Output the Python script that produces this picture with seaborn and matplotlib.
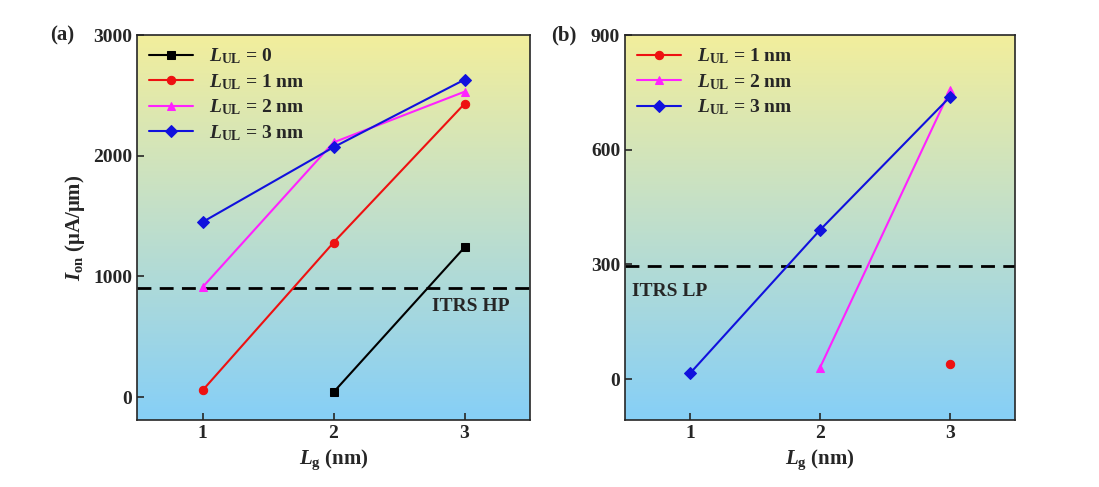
import matplotlib
matplotlib.use("Agg")
import matplotlib.pyplot as plt
import seaborn as sns
import numpy as np
import pandas as pd
from matplotlib.colors import LinearSegmentedColormap

# panel (a) data
lg_a0 = [2, 3]
ion_a0 = [40, 1240]
lg_a = [1, 2, 3]
ion_a1 = [55, 1280, 2430]
ion_a2 = [910, 2110, 2530]
ion_a3 = [1450, 2070, 2630]
itrs_hp = 900

# panel (b) data
lg_b1 = [3]
ion_b1 = [40]
lg_b2 = [2, 3]
ion_b2 = [30, 755]
lg_b3 = [1, 2, 3]
ion_b3 = [15, 390, 738]
itrs_lp = 295

sns.set_style("ticks")
plt.rcParams['font.family'] = ['Liberation Serif', 'DejaVu Serif']
plt.rcParams['font.weight'] = 'bold'
plt.rcParams['axes.labelweight'] = 'bold'
plt.rcParams['mathtext.fontset'] = 'custom'
plt.rcParams['mathtext.it'] = 'Liberation Serif:italic:bold'
plt.rcParams['mathtext.rm'] = 'Liberation Serif:bold'
plt.rcParams['mathtext.bf'] = 'Liberation Serif:bold'

fig = plt.figure(figsize=(10.99, 4.87), dpi=100)
ax1 = fig.add_axes([137/1099, 67/487, 393/1099, 385/487])
ax2 = fig.add_axes([625/1099, 67/487, 390/1099, 385/487])

cmap = LinearSegmentedColormap.from_list("bg", [(0, "#f2ee9c"), (0.45, "#c4e0c8"), (1, "#86cff7")])
grad = np.linspace(0, 1, 256).reshape(-1, 1)

def draw_bg(ax):
    ax.imshow(grad, aspect='auto', cmap=cmap, extent=[0, 1, 0, 1],
              transform=ax.transAxes, zorder=0)

def plot_series(ax, x, y, color, marker, label):
    df = pd.DataFrame({'x': x, 'y': y})
    sns.lineplot(data=df, x='x', y='y', ax=ax, color=color, marker=marker,
                 markersize=6, markeredgecolor=color, linewidth=1.5, label=label, zorder=3)

lab = lambda s: r'$L_{\mathrm{UL}}$ = ' + s

draw_bg(ax1)
plot_series(ax1, lg_a0, ion_a0, 'black', 's', lab('0'))
plot_series(ax1, lg_a, ion_a1, '#ee1111', 'o', lab('1 nm'))
plot_series(ax1, lg_a, ion_a2, '#ff22ff', '^', lab('2 nm'))
plot_series(ax1, lg_a, ion_a3, '#1111dd', 'D', lab('3 nm'))
ax1.axhline(itrs_hp, color='black', ls=(0, (5, 3)), lw=2, zorder=2)
ax1.text(2.75, 750, 'ITRS HP', fontsize=14, fontweight='bold', va='center')
ax1.set_xlim(0.5, 3.5)
ax1.set_ylim(-190, 3000)
ax1.set_yticks([0, 1000, 2000, 3000])
ax1.set_ylabel(r'$I_{\mathrm{on}}$ ($\mathrm{\mu}$A/$\mathrm{\mu}$m)', fontsize=15, fontweight='bold')
ax1.text(-0.22, 1.0, '(a)', transform=ax1.transAxes, fontsize=15, fontweight='bold', va='center')

draw_bg(ax2)
plot_series(ax2, lg_b1, ion_b1, '#ee1111', 'o', lab('1 nm'))
plot_series(ax2, lg_b2, ion_b2, '#ff22ff', '^', lab('2 nm'))
plot_series(ax2, lg_b3, ion_b3, '#1111dd', 'D', lab('3 nm'))
ax2.axhline(itrs_lp, color='black', ls=(0, (5, 3)), lw=2, zorder=2)
ax2.text(0.55, 230, 'ITRS LP', fontsize=14, fontweight='bold', va='center')
ax2.set_xlim(0.5, 3.5)
ax2.set_ylim(-107, 900)
ax2.set_yticks([0, 300, 600, 900])
ax2.set_ylabel('')
ax2.text(-0.19, 1.0, '(b)', transform=ax2.transAxes, fontsize=15, fontweight='bold', va='center')

for ax in (ax1, ax2):
    ax.set_xticks([1, 2, 3])
    ax.set_xlabel(r'$L_{\mathrm{g}}$ (nm)', fontsize=15, fontweight='bold')
    ax.tick_params(direction='in', labelsize=14, length=5, width=1.2)
    for t in ax.get_xticklabels() + ax.get_yticklabels():
        t.set_fontweight('bold')
    for s in ax.spines.values():
        s.set_linewidth(1.2)
    ax.legend(loc='upper left', frameon=False, prop={'size': 14, 'weight': 'bold'},
              handlelength=2.3, borderaxespad=0.2, labelspacing=0.3)

fig.savefig('out.png', dpi=100)
